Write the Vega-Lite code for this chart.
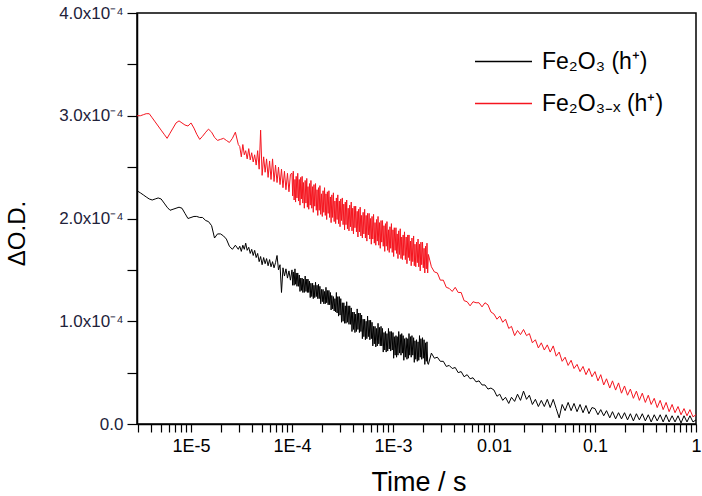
{
  "$schema": "https://vega.github.io/schema/vega-lite/v6.json",
  "width": 559,
  "height": 411,
  "autosize": {"type": "none"},
  "padding": {"left": 137, "top": 13, "right": 6, "bottom": 72},
  "background": "white",
  "config": {
    "view": {"stroke": "#000000", "strokeWidth": 1.5},
    "font": "Liberation Sans"
  },
  "data": {"values": [
{"t":2.92e-6,"fe2o3":2.27e-4,"fe2o3x":3.00e-4},
{"t":3.15e-6,"fe2o3":2.25e-4,"fe2o3x":3.00e-4},
{"t":3.37e-6,"fe2o3":2.23e-4,"fe2o3x":3.01e-4},
{"t":3.60e-6,"fe2o3":2.21e-4,"fe2o3x":3.02e-4},
{"t":3.86e-6,"fe2o3":2.19e-4,"fe2o3x":3.02e-4},
{"t":4.13e-6,"fe2o3":2.18e-4,"fe2o3x":2.98e-4},
{"t":4.42e-6,"fe2o3":2.19e-4,"fe2o3x":2.94e-4},
{"t":4.73e-6,"fe2o3":2.20e-4,"fe2o3x":2.90e-4},
{"t":5.06e-6,"fe2o3":2.19e-4,"fe2o3x":2.86e-4},
{"t":5.42e-6,"fe2o3":2.15e-4,"fe2o3x":2.82e-4},
{"t":5.80e-6,"fe2o3":2.11e-4,"fe2o3x":2.78e-4},
{"t":6.20e-6,"fe2o3":2.08e-4,"fe2o3x":2.83e-4},
{"t":6.64e-6,"fe2o3":2.09e-4,"fe2o3x":2.88e-4},
{"t":7.11e-6,"fe2o3":2.10e-4,"fe2o3x":2.93e-4},
{"t":7.61e-6,"fe2o3":2.11e-4,"fe2o3x":2.95e-4},
{"t":8.14e-6,"fe2o3":2.10e-4,"fe2o3x":2.93e-4},
{"t":8.71e-6,"fe2o3":2.05e-4,"fe2o3x":2.91e-4},
{"t":9.33e-6,"fe2o3":2.00e-4,"fe2o3x":2.90e-4},
{"t":1.00e-5,"fe2o3":2.01e-4,"fe2o3x":2.93e-4},
{"t":1.07e-5,"fe2o3":2.02e-4,"fe2o3x":2.88e-4},
{"t":1.14e-5,"fe2o3":2.02e-4,"fe2o3x":2.82e-4},
{"t":1.22e-5,"fe2o3":2.01e-4,"fe2o3x":2.77e-4},
{"t":1.30e-5,"fe2o3":2.01e-4,"fe2o3x":2.80e-4},
{"t":1.40e-5,"fe2o3":1.98e-4,"fe2o3x":2.84e-4},
{"t":1.49e-5,"fe2o3":1.97e-4,"fe2o3x":2.87e-4},
{"t":1.60e-5,"fe2o3":1.93e-4,"fe2o3x":2.84e-4},
{"t":1.71e-5,"fe2o3":1.81e-4,"fe2o3x":2.79e-4},
{"t":1.83e-5,"fe2o3":1.85e-4,"fe2o3x":2.76e-4},
{"t":1.96e-5,"fe2o3":1.85e-4,"fe2o3x":2.77e-4},
{"t":2.10e-5,"fe2o3":1.83e-4,"fe2o3x":2.78e-4},
{"t":2.24e-5,"fe2o3":1.80e-4,"fe2o3x":2.76e-4},
{"t":2.40e-5,"fe2o3":1.73e-4,"fe2o3x":2.74e-4},
{"t":2.57e-5,"fe2o3":1.70e-4,"fe2o3x":2.78e-4},
{"t":2.75e-5,"fe2o3":1.74e-4,"fe2o3x":2.84e-4},
{"t":2.94e-5,"fe2o3":1.70e-4,"fe2o3x":2.72e-4},
{"t":3.04e-5,"fe2o3":1.73e-4,"fe2o3x":2.70e-4},
{"t":3.15e-5,"fe2o3":1.68e-4,"fe2o3x":2.60e-4},
{"t":3.26e-5,"fe2o3":1.74e-4,"fe2o3x":2.72e-4},
{"t":3.37e-5,"fe2o3":1.70e-4,"fe2o3x":2.62e-4},
{"t":3.48e-5,"fe2o3":1.76e-4,"fe2o3x":2.66e-4},
{"t":3.60e-5,"fe2o3":1.69e-4,"fe2o3x":2.58e-4},
{"t":3.73e-5,"fe2o3":1.72e-4,"fe2o3x":2.68e-4},
{"t":3.86e-5,"fe2o3":1.66e-4,"fe2o3x":2.57e-4},
{"t":3.99e-5,"fe2o3":1.70e-4,"fe2o3x":2.64e-4},
{"t":4.13e-5,"fe2o3":1.64e-4,"fe2o3x":2.55e-4},
{"t":4.27e-5,"fe2o3":1.69e-4,"fe2o3x":2.62e-4},
{"t":4.42e-5,"fe2o3":1.62e-4,"fe2o3x":2.52e-4},
{"t":4.57e-5,"fe2o3":1.66e-4,"fe2o3x":2.66e-4},
{"t":4.73e-5,"fe2o3":1.58e-4,"fe2o3x":2.48e-4},
{"t":4.89e-5,"fe2o3":1.63e-4,"fe2o3x":2.86e-4},
{"t":5.06e-5,"fe2o3":1.55e-4,"fe2o3x":2.42e-4},
{"t":5.24e-5,"fe2o3":1.62e-4,"fe2o3x":2.60e-4},
{"t":5.42e-5,"fe2o3":1.56e-4,"fe2o3x":2.45e-4},
{"t":5.60e-5,"fe2o3":1.61e-4,"fe2o3x":2.58e-4},
{"t":5.80e-5,"fe2o3":1.54e-4,"fe2o3x":2.40e-4},
{"t":6.00e-5,"fe2o3":1.60e-4,"fe2o3x":2.56e-4},
{"t":6.20e-5,"fe2o3":1.53e-4,"fe2o3x":2.38e-4},
{"t":6.42e-5,"fe2o3":1.58e-4,"fe2o3x":2.58e-4},
{"t":6.64e-5,"fe2o3":1.52e-4,"fe2o3x":2.36e-4},
{"t":6.87e-5,"fe2o3":1.57e-4,"fe2o3x":2.52e-4},
{"t":7.11e-5,"fe2o3":1.64e-4,"fe2o3x":2.35e-4},
{"t":7.35e-5,"fe2o3":1.50e-4,"fe2o3x":2.50e-4},
{"t":7.61e-5,"fe2o3":1.55e-4,"fe2o3x":2.33e-4},
{"t":7.87e-5,"fe2o3":1.28e-4,"fe2o3x":2.48e-4},
{"t":8.14e-5,"fe2o3":1.52e-4,"fe2o3x":2.30e-4},
{"t":8.42e-5,"fe2o3":1.44e-4,"fe2o3x":2.46e-4},
{"t":8.71e-5,"fe2o3":1.51e-4,"fe2o3x":2.28e-4},
{"t":9.02e-5,"fe2o3":1.42e-4,"fe2o3x":2.44e-4},
{"t":9.33e-5,"fe2o3":1.49e-4,"fe2o3x":2.26e-4},
{"t":9.65e-5,"fe2o3":1.40e-4,"fe2o3x":2.43e-4},
{"t":1.000e-4,"fe2o3":1.50e-4,"fe2o3x":2.44e-4},
{"t":1.015e-4,"fe2o3":1.35e-4,"fe2o3x":2.22e-4},
{"t":1.030e-4,"fe2o3":1.48e-4,"fe2o3x":2.46e-4},
{"t":1.050e-4,"fe2o3":1.35e-4,"fe2o3x":2.18e-4},
{"t":1.070e-4,"fe2o3":1.51e-4,"fe2o3x":2.38e-4},
{"t":1.085e-4,"fe2o3":1.36e-4,"fe2o3x":2.16e-4},
{"t":1.100e-4,"fe2o3":1.47e-4,"fe2o3x":2.41e-4},
{"t":1.120e-4,"fe2o3":1.34e-4,"fe2o3x":2.20e-4},
{"t":1.140e-4,"fe2o3":1.47e-4,"fe2o3x":2.44e-4},
{"t":1.160e-4,"fe2o3":1.34e-4,"fe2o3x":2.17e-4},
{"t":1.180e-4,"fe2o3":1.45e-4,"fe2o3x":2.38e-4},
{"t":1.200e-4,"fe2o3":1.29e-4,"fe2o3x":2.13e-4},
{"t":1.220e-4,"fe2o3":1.42e-4,"fe2o3x":2.40e-4},
{"t":1.240e-4,"fe2o3":1.30e-4,"fe2o3x":2.19e-4},
{"t":1.260e-4,"fe2o3":1.42e-4,"fe2o3x":2.41e-4},
{"t":1.280e-4,"fe2o3":1.28e-4,"fe2o3x":2.15e-4},
{"t":1.300e-4,"fe2o3":1.41e-4,"fe2o3x":2.35e-4},
{"t":1.325e-4,"fe2o3":1.28e-4,"fe2o3x":2.10e-4},
{"t":1.350e-4,"fe2o3":1.44e-4,"fe2o3x":2.37e-4},
{"t":1.375e-4,"fe2o3":1.29e-4,"fe2o3x":2.15e-4},
{"t":1.400e-4,"fe2o3":1.41e-4,"fe2o3x":2.39e-4},
{"t":1.420e-4,"fe2o3":1.28e-4,"fe2o3x":2.11e-4},
{"t":1.440e-4,"fe2o3":1.41e-4,"fe2o3x":2.31e-4},
{"t":1.465e-4,"fe2o3":1.28e-4,"fe2o3x":2.09e-4},
{"t":1.490e-4,"fe2o3":1.39e-4,"fe2o3x":2.34e-4},
{"t":1.515e-4,"fe2o3":1.23e-4,"fe2o3x":2.13e-4},
{"t":1.540e-4,"fe2o3":1.37e-4,"fe2o3x":2.37e-4},
{"t":1.570e-4,"fe2o3":1.24e-4,"fe2o3x":2.10e-4},
{"t":1.600e-4,"fe2o3":1.37e-4,"fe2o3x":2.31e-4},
{"t":1.625e-4,"fe2o3":1.22e-4,"fe2o3x":2.06e-4},
{"t":1.650e-4,"fe2o3":1.35e-4,"fe2o3x":2.33e-4},
{"t":1.680e-4,"fe2o3":1.23e-4,"fe2o3x":2.12e-4},
{"t":1.710e-4,"fe2o3":1.38e-4,"fe2o3x":2.34e-4},
{"t":1.740e-4,"fe2o3":1.24e-4,"fe2o3x":2.08e-4},
{"t":1.770e-4,"fe2o3":1.35e-4,"fe2o3x":2.28e-4},
{"t":1.800e-4,"fe2o3":1.22e-4,"fe2o3x":2.03e-4},
{"t":1.830e-4,"fe2o3":1.36e-4,"fe2o3x":2.30e-4},
{"t":1.860e-4,"fe2o3":1.22e-4,"fe2o3x":2.08e-4},
{"t":1.890e-4,"fe2o3":1.34e-4,"fe2o3x":2.32e-4},
{"t":1.925e-4,"fe2o3":1.17e-4,"fe2o3x":2.04e-4},
{"t":1.960e-4,"fe2o3":1.31e-4,"fe2o3x":2.24e-4},
{"t":1.995e-4,"fe2o3":1.19e-4,"fe2o3x":2.02e-4},
{"t":2.030e-4,"fe2o3":1.31e-4,"fe2o3x":2.27e-4},
{"t":2.065e-4,"fe2o3":1.17e-4,"fe2o3x":2.06e-4},
{"t":2.100e-4,"fe2o3":1.29e-4,"fe2o3x":2.30e-4},
{"t":2.135e-4,"fe2o3":1.17e-4,"fe2o3x":2.03e-4},
{"t":2.170e-4,"fe2o3":1.33e-4,"fe2o3x":2.24e-4},
{"t":2.205e-4,"fe2o3":1.18e-4,"fe2o3x":1.99e-4},
{"t":2.240e-4,"fe2o3":1.30e-4,"fe2o3x":2.26e-4},
{"t":2.280e-4,"fe2o3":1.16e-4,"fe2o3x":2.05e-4},
{"t":2.320e-4,"fe2o3":1.30e-4,"fe2o3x":2.27e-4},
{"t":2.360e-4,"fe2o3":1.16e-4,"fe2o3x":2.01e-4},
{"t":2.400e-4,"fe2o3":1.28e-4,"fe2o3x":2.21e-4},
{"t":2.440e-4,"fe2o3":1.11e-4,"fe2o3x":1.96e-4},
{"t":2.480e-4,"fe2o3":1.25e-4,"fe2o3x":2.23e-4},
{"t":2.525e-4,"fe2o3":1.12e-4,"fe2o3x":2.01e-4},
{"t":2.570e-4,"fe2o3":1.24e-4,"fe2o3x":2.25e-4},
{"t":2.615e-4,"fe2o3":1.10e-4,"fe2o3x":1.97e-4},
{"t":2.660e-4,"fe2o3":1.22e-4,"fe2o3x":2.17e-4},
{"t":2.705e-4,"fe2o3":1.09e-4,"fe2o3x":1.95e-4},
{"t":2.750e-4,"fe2o3":1.28e-4,"fe2o3x":2.20e-4},
{"t":2.795e-4,"fe2o3":1.08e-4,"fe2o3x":1.99e-4},
{"t":2.840e-4,"fe2o3":1.24e-4,"fe2o3x":2.23e-4},
{"t":2.890e-4,"fe2o3":1.05e-4,"fe2o3x":1.95e-4},
{"t":2.940e-4,"fe2o3":1.24e-4,"fe2o3x":2.17e-4},
{"t":2.990e-4,"fe2o3":1.06e-4,"fe2o3x":1.92e-4},
{"t":3.040e-4,"fe2o3":1.22e-4,"fe2o3x":2.19e-4},
{"t":3.095e-4,"fe2o3":0.99e-4,"fe2o3x":1.98e-4},
{"t":3.150e-4,"fe2o3":1.18e-4,"fe2o3x":2.20e-4},
{"t":3.205e-4,"fe2o3":1.00e-4,"fe2o3x":1.94e-4},
{"t":3.260e-4,"fe2o3":1.18e-4,"fe2o3x":2.14e-4},
{"t":3.315e-4,"fe2o3":0.98e-4,"fe2o3x":1.89e-4},
{"t":3.370e-4,"fe2o3":1.15e-4,"fe2o3x":2.16e-4},
{"t":3.425e-4,"fe2o3":0.98e-4,"fe2o3x":1.94e-4},
{"t":3.480e-4,"fe2o3":1.19e-4,"fe2o3x":2.18e-4},
{"t":3.540e-4,"fe2o3":0.99e-4,"fe2o3x":1.90e-4},
{"t":3.600e-4,"fe2o3":1.15e-4,"fe2o3x":2.10e-4},
{"t":3.665e-4,"fe2o3":0.97e-4,"fe2o3x":1.88e-4},
{"t":3.730e-4,"fe2o3":1.15e-4,"fe2o3x":2.13e-4},
{"t":3.795e-4,"fe2o3":0.97e-4,"fe2o3x":1.92e-4},
{"t":3.860e-4,"fe2o3":1.13e-4,"fe2o3x":2.16e-4},
{"t":3.925e-4,"fe2o3":0.90e-4,"fe2o3x":1.88e-4},
{"t":3.990e-4,"fe2o3":1.09e-4,"fe2o3x":2.10e-4},
{"t":4.060e-4,"fe2o3":0.92e-4,"fe2o3x":1.85e-4},
{"t":4.130e-4,"fe2o3":1.09e-4,"fe2o3x":2.12e-4},
{"t":4.200e-4,"fe2o3":0.89e-4,"fe2o3x":1.91e-4},
{"t":4.270e-4,"fe2o3":1.07e-4,"fe2o3x":2.12e-4},
{"t":4.345e-4,"fe2o3":0.90e-4,"fe2o3x":1.87e-4},
{"t":4.420e-4,"fe2o3":1.12e-4,"fe2o3x":2.07e-4},
{"t":4.495e-4,"fe2o3":0.92e-4,"fe2o3x":1.82e-4},
{"t":4.570e-4,"fe2o3":1.08e-4,"fe2o3x":2.09e-4},
{"t":4.650e-4,"fe2o3":0.89e-4,"fe2o3x":1.87e-4},
{"t":4.730e-4,"fe2o3":1.08e-4,"fe2o3x":2.11e-4},
{"t":4.810e-4,"fe2o3":0.90e-4,"fe2o3x":1.83e-4},
{"t":4.890e-4,"fe2o3":1.06e-4,"fe2o3x":2.03e-4},
{"t":4.975e-4,"fe2o3":0.83e-4,"fe2o3x":1.81e-4},
{"t":5.060e-4,"fe2o3":1.02e-4,"fe2o3x":2.06e-4},
{"t":5.150e-4,"fe2o3":0.85e-4,"fe2o3x":1.85e-4},
{"t":5.240e-4,"fe2o3":1.02e-4,"fe2o3x":2.09e-4},
{"t":5.330e-4,"fe2o3":0.82e-4,"fe2o3x":1.81e-4},
{"t":5.420e-4,"fe2o3":1.00e-4,"fe2o3x":2.03e-4},
{"t":5.510e-4,"fe2o3":0.83e-4,"fe2o3x":1.78e-4},
{"t":5.600e-4,"fe2o3":1.05e-4,"fe2o3x":2.05e-4},
{"t":5.700e-4,"fe2o3":0.85e-4,"fe2o3x":1.84e-4},
{"t":5.800e-4,"fe2o3":1.01e-4,"fe2o3x":2.05e-4},
{"t":5.900e-4,"fe2o3":0.82e-4,"fe2o3x":1.80e-4},
{"t":6.000e-4,"fe2o3":1.01e-4,"fe2o3x":2.00e-4},
{"t":6.100e-4,"fe2o3":0.83e-4,"fe2o3x":1.75e-4},
{"t":6.200e-4,"fe2o3":0.99e-4,"fe2o3x":2.02e-4},
{"t":6.310e-4,"fe2o3":0.76e-4,"fe2o3x":1.80e-4},
{"t":6.420e-4,"fe2o3":0.95e-4,"fe2o3x":2.04e-4},
{"t":6.530e-4,"fe2o3":0.78e-4,"fe2o3x":1.76e-4},
{"t":6.640e-4,"fe2o3":0.95e-4,"fe2o3x":1.96e-4},
{"t":6.755e-4,"fe2o3":0.75e-4,"fe2o3x":1.74e-4},
{"t":6.870e-4,"fe2o3":0.93e-4,"fe2o3x":1.99e-4},
{"t":6.990e-4,"fe2o3":0.76e-4,"fe2o3x":1.78e-4},
{"t":7.110e-4,"fe2o3":0.98e-4,"fe2o3x":2.02e-4},
{"t":7.230e-4,"fe2o3":0.78e-4,"fe2o3x":1.74e-4},
{"t":7.350e-4,"fe2o3":0.94e-4,"fe2o3x":1.96e-4},
{"t":7.480e-4,"fe2o3":0.76e-4,"fe2o3x":1.71e-4},
{"t":7.610e-4,"fe2o3":0.95e-4,"fe2o3x":1.98e-4},
{"t":7.740e-4,"fe2o3":0.76e-4,"fe2o3x":1.77e-4},
{"t":7.870e-4,"fe2o3":0.93e-4,"fe2o3x":1.98e-4},
{"t":8.005e-4,"fe2o3":0.70e-4,"fe2o3x":1.73e-4},
{"t":8.140e-4,"fe2o3":0.89e-4,"fe2o3x":1.93e-4},
{"t":8.280e-4,"fe2o3":0.72e-4,"fe2o3x":1.68e-4},
{"t":8.420e-4,"fe2o3":0.90e-4,"fe2o3x":1.95e-4},
{"t":8.565e-4,"fe2o3":0.70e-4,"fe2o3x":1.73e-4},
{"t":8.710e-4,"fe2o3":0.88e-4,"fe2o3x":1.97e-4},
{"t":8.865e-4,"fe2o3":0.71e-4,"fe2o3x":1.69e-4},
{"t":9.020e-4,"fe2o3":0.93e-4,"fe2o3x":1.89e-4},
{"t":9.175e-4,"fe2o3":0.73e-4,"fe2o3x":1.67e-4},
{"t":9.330e-4,"fe2o3":0.90e-4,"fe2o3x":1.92e-4},
{"t":9.490e-4,"fe2o3":0.71e-4,"fe2o3x":1.71e-4},
{"t":9.650e-4,"fe2o3":0.90e-4,"fe2o3x":1.95e-4},
{"t":9.825e-4,"fe2o3":0.72e-4,"fe2o3x":1.67e-4},
{"t":1.000e-3,"fe2o3":0.89e-4,"fe2o3x":1.89e-4},
{"t":1.015e-3,"fe2o3":0.64e-4,"fe2o3x":1.63e-4},
{"t":1.030e-3,"fe2o3":0.85e-4,"fe2o3x":1.91e-4},
{"t":1.050e-3,"fe2o3":0.67e-4,"fe2o3x":1.69e-4},
{"t":1.070e-3,"fe2o3":0.86e-4,"fe2o3x":1.91e-4},
{"t":1.085e-3,"fe2o3":0.65e-4,"fe2o3x":1.66e-4},
{"t":1.100e-3,"fe2o3":0.85e-4,"fe2o3x":1.85e-4},
{"t":1.120e-3,"fe2o3":0.67e-4,"fe2o3x":1.61e-4},
{"t":1.140e-3,"fe2o3":0.90e-4,"fe2o3x":1.88e-4},
{"t":1.160e-3,"fe2o3":0.69e-4,"fe2o3x":1.65e-4},
{"t":1.180e-3,"fe2o3":0.87e-4,"fe2o3x":1.90e-4},
{"t":1.200e-3,"fe2o3":0.67e-4,"fe2o3x":1.61e-4},
{"t":1.220e-3,"fe2o3":0.88e-4,"fe2o3x":1.82e-4},
{"t":1.240e-3,"fe2o3":0.69e-4,"fe2o3x":1.60e-4},
{"t":1.260e-3,"fe2o3":0.86e-4,"fe2o3x":1.84e-4},
{"t":1.280e-3,"fe2o3":0.62e-4,"fe2o3x":1.64e-4},
{"t":1.300e-3,"fe2o3":0.83e-4,"fe2o3x":1.87e-4},
{"t":1.325e-3,"fe2o3":0.65e-4,"fe2o3x":1.60e-4},
{"t":1.350e-3,"fe2o3":0.84e-4,"fe2o3x":1.82e-4},
{"t":1.375e-3,"fe2o3":0.63e-4,"fe2o3x":1.56e-4},
{"t":1.400e-3,"fe2o3":0.83e-4,"fe2o3x":1.84e-4},
{"t":1.420e-3,"fe2o3":0.64e-4,"fe2o3x":1.62e-4},
{"t":1.440e-3,"fe2o3":0.88e-4,"fe2o3x":1.84e-4},
{"t":1.465e-3,"fe2o3":0.67e-4,"fe2o3x":1.59e-4},
{"t":1.490e-3,"fe2o3":0.85e-4,"fe2o3x":1.78e-4},
{"t":1.515e-3,"fe2o3":0.65e-4,"fe2o3x":1.54e-4},
{"t":1.540e-3,"fe2o3":0.86e-4,"fe2o3x":1.81e-4},
{"t":1.570e-3,"fe2o3":0.67e-4,"fe2o3x":1.58e-4},
{"t":1.600e-3,"fe2o3":0.84e-4,"fe2o3x":1.83e-4},
{"t":1.625e-3,"fe2o3":0.60e-4,"fe2o3x":1.54e-4},
{"t":1.650e-3,"fe2o3":0.81e-4,"fe2o3x":1.75e-4},
{"t":1.680e-3,"fe2o3":0.63e-4,"fe2o3x":1.53e-4},
{"t":1.710e-3,"fe2o3":0.82e-4,"fe2o3x":1.77e-4},
{"t":1.740e-3,"fe2o3":0.61e-4,"fe2o3x":1.57e-4},
{"t":1.770e-3,"fe2o3":0.80e-4,"fe2o3x":1.80e-4},
{"t":1.800e-3,"fe2o3":0.62e-4,"fe2o3x":1.53e-4},
{"t":1.830e-3,"fe2o3":0.86e-4,"fe2o3x":1.75e-4},
{"t":1.860e-3,"fe2o3":0.65e-4,"fe2o3x":1.49e-4},
{"t":1.890e-3,"fe2o3":0.83e-4,"fe2o3x":1.77e-4},
{"t":1.925e-3,"fe2o3":0.63e-4,"fe2o3x":1.55e-4},
{"t":1.960e-3,"fe2o3":0.84e-4,"fe2o3x":1.77e-4},
{"t":1.995e-3,"fe2o3":0.64e-4,"fe2o3x":1.52e-4},
{"t":2.030e-3,"fe2o3":0.82e-4,"fe2o3x":1.71e-4},
{"t":2.065e-3,"fe2o3":0.58e-4,"fe2o3x":1.47e-4},
{"t":2.100e-3,"fe2o3":0.79e-4,"fe2o3x":1.73e-4},
{"t":2.135e-3,"fe2o3":0.61e-4,"fe2o3x":1.51e-4},
{"t":2.170e-3,"fe2o3":0.80e-4,"fe2o3x":1.76e-4},
{"t":2.205e-3,"fe2o3":0.59e-4,"fe2o3x":1.47e-4},
{"t":2.240e-3,"fe2o3":0.58e-4,"fe2o3x":1.65e-4},
{"t":2.40e-3,"fe2o3":0.69e-4,"fe2o3x":1.53e-4},
{"t":2.57e-3,"fe2o3":0.64e-4,"fe2o3x":1.48e-4},
{"t":2.75e-3,"fe2o3":0.65e-4,"fe2o3x":1.47e-4},
{"t":2.94e-3,"fe2o3":0.61e-4,"fe2o3x":1.40e-4},
{"t":3.15e-3,"fe2o3":0.61e-4,"fe2o3x":1.40e-4},
{"t":3.37e-3,"fe2o3":0.56e-4,"fe2o3x":1.33e-4},
{"t":3.60e-3,"fe2o3":0.57e-4,"fe2o3x":1.32e-4},
{"t":3.86e-3,"fe2o3":0.54e-4,"fe2o3x":1.29e-4},
{"t":4.13e-3,"fe2o3":0.55e-4,"fe2o3x":1.33e-4},
{"t":4.42e-3,"fe2o3":0.50e-4,"fe2o3x":1.28e-4},
{"t":4.73e-3,"fe2o3":0.51e-4,"fe2o3x":1.28e-4},
{"t":5.06e-3,"fe2o3":0.46e-4,"fe2o3x":1.20e-4},
{"t":5.42e-3,"fe2o3":0.48e-4,"fe2o3x":1.19e-4},
{"t":5.80e-3,"fe2o3":0.44e-4,"fe2o3x":1.15e-4},
{"t":6.20e-3,"fe2o3":0.45e-4,"fe2o3x":1.19e-4},
{"t":6.64e-3,"fe2o3":0.41e-4,"fe2o3x":1.18e-4},
{"t":7.11e-3,"fe2o3":0.42e-4,"fe2o3x":1.18e-4},
{"t":7.61e-3,"fe2o3":0.38e-4,"fe2o3x":1.14e-4},
{"t":8.14e-3,"fe2o3":0.38e-4,"fe2o3x":1.18e-4},
{"t":8.71e-3,"fe2o3":0.34e-4,"fe2o3x":1.16e-4},
{"t":9.33e-3,"fe2o3":0.35e-4,"fe2o3x":1.09e-4},
{"t":1.00e-2,"fe2o3":0.33e-4,"fe2o3x":1.07e-4},
{"t":1.07e-2,"fe2o3":0.27e-4,"fe2o3x":1.02e-4},
{"t":1.14e-2,"fe2o3":0.29e-4,"fe2o3x":1.05e-4},
{"t":1.22e-2,"fe2o3":0.23e-4,"fe2o3x":0.99e-4},
{"t":1.30e-2,"fe2o3":0.26e-4,"fe2o3x":1.02e-4},
{"t":1.40e-2,"fe2o3":0.20e-4,"fe2o3x":0.93e-4},
{"t":1.49e-2,"fe2o3":0.26e-4,"fe2o3x":0.95e-4},
{"t":1.60e-2,"fe2o3":0.22e-4,"fe2o3x":0.86e-4},
{"t":1.71e-2,"fe2o3":0.29e-4,"fe2o3x":0.91e-4},
{"t":1.83e-2,"fe2o3":0.23e-4,"fe2o3x":0.87e-4},
{"t":1.96e-2,"fe2o3":0.32e-4,"fe2o3x":0.92e-4},
{"t":2.10e-2,"fe2o3":0.24e-4,"fe2o3x":0.86e-4},
{"t":2.24e-2,"fe2o3":0.28e-4,"fe2o3x":0.88e-4},
{"t":2.40e-2,"fe2o3":0.19e-4,"fe2o3x":0.79e-4},
{"t":2.57e-2,"fe2o3":0.24e-4,"fe2o3x":0.82e-4},
{"t":2.75e-2,"fe2o3":0.17e-4,"fe2o3x":0.74e-4},
{"t":2.94e-2,"fe2o3":0.23e-4,"fe2o3x":0.79e-4},
{"t":3.15e-2,"fe2o3":0.17e-4,"fe2o3x":0.72e-4},
{"t":3.37e-2,"fe2o3":0.24e-4,"fe2o3x":0.77e-4},
{"t":3.60e-2,"fe2o3":0.16e-4,"fe2o3x":0.70e-4},
{"t":3.86e-2,"fe2o3":0.24e-4,"fe2o3x":0.76e-4},
{"t":4.13e-2,"fe2o3":0.15e-4,"fe2o3x":0.66e-4},
{"t":4.42e-2,"fe2o3":0.06e-4,"fe2o3x":0.70e-4},
{"t":4.73e-2,"fe2o3":0.19e-4,"fe2o3x":0.61e-4},
{"t":5.06e-2,"fe2o3":0.13e-4,"fe2o3x":0.65e-4},
{"t":5.42e-2,"fe2o3":0.21e-4,"fe2o3x":0.57e-4},
{"t":5.80e-2,"fe2o3":0.13e-4,"fe2o3x":0.62e-4},
{"t":6.20e-2,"fe2o3":0.20e-4,"fe2o3x":0.54e-4},
{"t":6.64e-2,"fe2o3":0.12e-4,"fe2o3x":0.58e-4},
{"t":7.11e-2,"fe2o3":0.19e-4,"fe2o3x":0.51e-4},
{"t":7.61e-2,"fe2o3":0.11e-4,"fe2o3x":0.56e-4},
{"t":8.14e-2,"fe2o3":0.18e-4,"fe2o3x":0.48e-4},
{"t":8.71e-2,"fe2o3":0.10e-4,"fe2o3x":0.54e-4},
{"t":9.33e-2,"fe2o3":0.16e-4,"fe2o3x":0.46e-4},
{"t":0.100,"fe2o3":0.15e-4,"fe2o3x":0.51e-4},
{"t":0.107,"fe2o3":0.09e-4,"fe2o3x":0.42e-4},
{"t":0.114,"fe2o3":0.14e-4,"fe2o3x":0.48e-4},
{"t":0.122,"fe2o3":0.08e-4,"fe2o3x":0.38e-4},
{"t":0.130,"fe2o3":0.13e-4,"fe2o3x":0.44e-4},
{"t":0.140,"fe2o3":0.06e-4,"fe2o3x":0.35e-4},
{"t":0.149,"fe2o3":0.12e-4,"fe2o3x":0.42e-4},
{"t":0.160,"fe2o3":0.05e-4,"fe2o3x":0.33e-4},
{"t":0.171,"fe2o3":0.11e-4,"fe2o3x":0.40e-4},
{"t":0.183,"fe2o3":0.05e-4,"fe2o3x":0.30e-4},
{"t":0.196,"fe2o3":0.11e-4,"fe2o3x":0.37e-4},
{"t":0.210,"fe2o3":0.04e-4,"fe2o3x":0.28e-4},
{"t":0.224,"fe2o3":0.10e-4,"fe2o3x":0.34e-4},
{"t":0.240,"fe2o3":0.03e-4,"fe2o3x":0.25e-4},
{"t":0.257,"fe2o3":0.10e-4,"fe2o3x":0.32e-4},
{"t":0.275,"fe2o3":0.04e-4,"fe2o3x":0.23e-4},
{"t":0.294,"fe2o3":0.10e-4,"fe2o3x":0.30e-4},
{"t":0.315,"fe2o3":0.03e-4,"fe2o3x":0.21e-4},
{"t":0.337,"fe2o3":0.09e-4,"fe2o3x":0.28e-4},
{"t":0.360,"fe2o3":0.02e-4,"fe2o3x":0.19e-4},
{"t":0.386,"fe2o3":0.09e-4,"fe2o3x":0.25e-4},
{"t":0.413,"fe2o3":0.03e-4,"fe2o3x":0.16e-4},
{"t":0.442,"fe2o3":0.09e-4,"fe2o3x":0.23e-4},
{"t":0.473,"fe2o3":0.02e-4,"fe2o3x":0.14e-4},
{"t":0.506,"fe2o3":0.09e-4,"fe2o3x":0.21e-4},
{"t":0.542,"fe2o3":0.02e-4,"fe2o3x":0.12e-4},
{"t":0.580,"fe2o3":0.08e-4,"fe2o3x":0.19e-4},
{"t":0.620,"fe2o3":0.02e-4,"fe2o3x":0.11e-4},
{"t":0.664,"fe2o3":0.08e-4,"fe2o3x":0.17e-4},
{"t":0.711,"fe2o3":0.01e-4,"fe2o3x":0.09e-4},
{"t":0.761,"fe2o3":0.08e-4,"fe2o3x":0.15e-4},
{"t":0.814,"fe2o3":0.02e-4,"fe2o3x":0.08e-4},
{"t":0.871,"fe2o3":0.08e-4,"fe2o3x":0.14e-4},
{"t":0.933,"fe2o3":0.02e-4,"fe2o3x":0.07e-4},
{"t":1.0,"fe2o3":0.04e-4,"fe2o3x":0.09e-4}
  ]},
  "encoding": {
    "x": {
      "field": "t",
      "type": "quantitative",
      "scale": {"type": "log", "domain": [2.92e-6, 1], "nice": false},
      "axis": {
        "title": "Time / s",
        "grid": false,
        "values": [3e-6,4e-6,5e-6,6e-6,7e-6,8e-6,9e-6,1e-5,2e-5,3e-5,4e-5,5e-5,6e-5,7e-5,8e-5,9e-5,1e-4,2e-4,3e-4,4e-4,5e-4,6e-4,7e-4,8e-4,9e-4,0.001,0.002,0.003,0.004,0.005,0.006,0.007,0.008,0.009,0.01,0.02,0.03,0.04,0.05,0.06,0.07,0.08,0.09,0.1,0.2,0.3,0.4,0.5,0.6,0.7,0.8,0.9,1],
        "labelExpr": "datum.value == 0.00001 ? '1E-5' : datum.value == 0.0001 ? '1E-4' : datum.value == 0.001 ? '1E-3' : datum.value == 0.01 ? '0.01' : datum.value == 0.1 ? '0.1' : datum.value == 1 ? '1' : ''",
        "labelOverlap": false,
        "labelFlush": false,
        "labelFont": "Liberation Sans",
        "labelFontSize": 18,
        "labelColor": "#000000",
        "labelPadding": 5,
        "tickSize": 8,
        "tickColor": "#000000",
        "tickWidth": 1.2,
        "domainColor": "#000000",
        "domainWidth": 1.5,
        "titleFont": "Liberation Sans",
        "titleFontSize": 27,
        "titleFontWeight": "normal",
        "titleColor": "#000000",
        "titleX": 281.5,
        "titleY": 66,
        "titleAlign": "center",
        "titleBaseline": "alphabetic",
        "encode": {"ticks": {"update": {"y2": {"signal": "indexof([0.00001,0.0001,0.001,0.01,0.1,1], datum.value) >= 0 ? 8 : 4"}}}}
      }
    }
  },
  "layer": [
    {
      "mark": {"type": "line", "strokeWidth": 1, "interpolate": "linear"},
      "encoding": {
        "y": {
          "field": "fe2o3x",
          "type": "quantitative",
          "scale": {"domain": [0, 0.0004], "nice": false},
          "axis": {
            "title": "ΔO.D.",
            "grid": false,
            "values": [0, 0.00005, 0.0001, 0.00015, 0.0002, 0.00025, 0.0003, 0.00035, 0.0004],
            "labelExpr": "datum.value == 0 ? '0.0' : (round(datum.value * 100000) % 10 == 0 ? format(datum.value * 10000, '.1f') + 'x10⁻⁴' : '')",
            "labelOverlap": false,
            "labelFlush": false,
            "labelFont": "Liberation Sans",
            "labelFontSize": 17,
            "labelColor": "#22223a",
            "labelPadding": 4,
            "tickSize": 10,
            "tickColor": "#000000",
            "tickWidth": 1.2,
            "domainColor": "#000000",
            "domainWidth": 1.5,
            "titleFont": "Liberation Sans",
            "titleFontSize": 24,
            "titleFontWeight": "normal",
            "titleColor": "#000000",
            "titleAngle": 270,
            "titleX": -120,
            "titleY": 220,
            "titleAlign": "center",
            "titleBaseline": "middle",
            "encode": {"ticks": {"update": {"x2": {"signal": "round(datum.value * 100000) % 10 == 0 ? -10 : -4"}}}}
          }
        },
        "color": {
          "datum": "Fe₂O₃₋ₓ (h⁺)",
          "type": "nominal",
          "scale": {"domain": ["Fe₂O₃ (h⁺)", "Fe₂O₃₋ₓ (h⁺)"], "range": ["#000000", "#f5151f"]},
          "legend": {
            "title": null,
            "orient": "none",
            "legendX": 355,
            "legendY": 37,
            "padding": 0,
            "symbolType": "M-3,0H3",
            "symbolSize": 361,
            "symbolStrokeWidth": 1.3,
            "labelFont": "Liberation Sans",
            "labelFontSize": 23,
            "labelColor": "#000000",
            "labelOffset": 27,
            "rowPadding": 18,
            "labelLimit": 300
          }
        }
      }
    },
    {
      "mark": {"type": "line", "strokeWidth": 1, "interpolate": "linear"},
      "encoding": {
        "y": {
          "field": "fe2o3",
          "type": "quantitative",
          "scale": {"domain": [0, 0.0004], "nice": false},
          "axis": {
            "title": "ΔO.D.",
            "grid": false,
            "values": [0, 0.00005, 0.0001, 0.00015, 0.0002, 0.00025, 0.0003, 0.00035, 0.0004],
            "labelExpr": "datum.value == 0 ? '0.0' : (round(datum.value * 100000) % 10 == 0 ? format(datum.value * 10000, '.1f') + 'x10⁻⁴' : '')",
            "labelOverlap": false,
            "labelFlush": false,
            "labelFont": "Liberation Sans",
            "labelFontSize": 17,
            "labelColor": "#22223a",
            "labelPadding": 4,
            "tickSize": 10,
            "tickColor": "#000000",
            "tickWidth": 1.2,
            "domainColor": "#000000",
            "domainWidth": 1.5,
            "titleFont": "Liberation Sans",
            "titleFontSize": 24,
            "titleFontWeight": "normal",
            "titleColor": "#000000",
            "titleAngle": 270,
            "titleX": -120,
            "titleY": 220,
            "titleAlign": "center",
            "titleBaseline": "middle",
            "encode": {"ticks": {"update": {"x2": {"signal": "round(datum.value * 100000) % 10 == 0 ? -10 : -4"}}}}
          }
        },
        "color": {"datum": "Fe₂O₃ (h⁺)", "type": "nominal"}
      }
    }
  ]
}
